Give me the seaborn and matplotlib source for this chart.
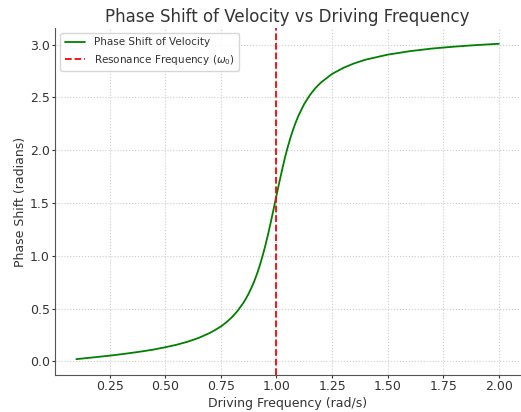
import matplotlib
matplotlib.use("Agg")
import matplotlib.pyplot as plt
import seaborn as sns
import pandas as pd

# Values
freq = [0.10, 0.15, 0.20, 0.25, 0.30, 0.35, 0.40, 0.45, 0.50, 0.55, 0.60, 0.65, 0.70,
        0.725, 0.75, 0.775, 0.80, 0.825, 0.85, 0.8625, 0.875, 0.8875, 0.90, 0.9125,
        0.925, 0.9375, 0.95, 0.9625, 0.975, 0.9875, 1.00, 1.0125, 1.025, 1.0375, 1.05,
        1.0625, 1.075, 1.0875, 1.10, 1.125, 1.15, 1.175, 1.20, 1.25, 1.30, 1.35, 1.40,
        1.50, 1.60, 1.70, 1.80, 1.90, 2.00]
phase = [0.020, 0.031, 0.042, 0.053, 0.066, 0.080, 0.095, 0.112, 0.133, 0.156, 0.185,
         0.221, 0.268, 0.297, 0.330, 0.370, 0.418, 0.477, 0.550, 0.593, 0.642, 0.697,
         0.758, 0.829, 0.908, 0.998, 1.097, 1.206, 1.323, 1.446, 1.571, 1.694, 1.812,
         1.924, 2.025, 2.116, 2.197, 2.269, 2.333, 2.439, 2.522, 2.589, 2.642, 2.723,
         2.780, 2.824, 2.858, 2.906, 2.939, 2.964, 2.982, 2.997, 3.009]
resonance = 1.0

df = pd.DataFrame({"freq": freq, "phase": phase})

sns.set_style("whitegrid", {
    "grid.linestyle": ":",
    "grid.color": "#cccccc",
    "axes.edgecolor": "#555555",
    "axes.spines.top": False,
    "axes.spines.right": False,
    "xtick.bottom": True,
    "ytick.left": True,
    "text.color": "#333333",
    "axes.labelcolor": "#333333",
    "xtick.color": "#333333",
    "ytick.color": "#333333",
})
plt.rcParams["font.family"] = ["DejaVu Sans"]

fig, ax = plt.subplots(figsize=(5.21, 4.12), dpi=100)
fig.subplots_adjust(left=0.106, right=0.998, bottom=0.09, top=0.932)

sns.lineplot(data=df, x="freq", y="phase", ax=ax, color="green", linewidth=1.3,
             label="Phase Shift of Velocity")
ax.axvline(resonance, color="red", linestyle="--", linewidth=1.3,
           label=r"Resonance Frequency ($\omega_0$)")

ax.set_title("Phase Shift of Velocity vs Driving Frequency", fontsize=12, color="#333333", pad=4)
ax.set_xlabel("Driving Frequency (rad/s)", fontsize=9, labelpad=2.5)
ax.set_ylabel("Phase Shift (radians)", fontsize=9, labelpad=2)
ax.tick_params(labelsize=9, length=2.5, width=0.8, pad=1.5)
ax.set_xticks([0.25, 0.50, 0.75, 1.00, 1.25, 1.50, 1.75, 2.00])
ax.set_yticks([0.0, 0.5, 1.0, 1.5, 2.0, 2.5, 3.0])
ax.legend(loc="upper left", fontsize=7.5, frameon=True)

fig.savefig("out.png", dpi=100)
